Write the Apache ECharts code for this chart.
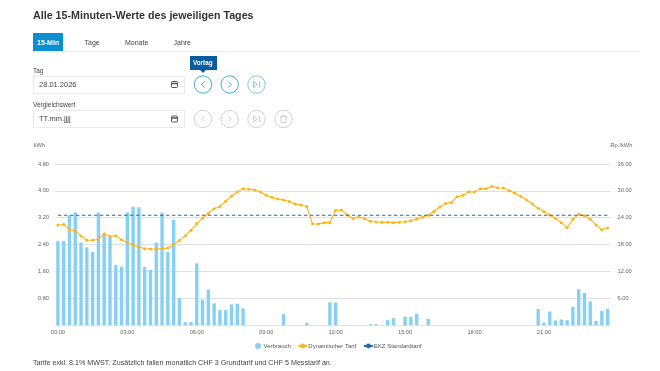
<!DOCTYPE html>
<html lang="de">
<head>
<meta charset="utf-8">
<title>Alle 15-Minuten-Werte</title>
<script src="https://cdn.jsdelivr.net/npm/echarts@6/dist/echarts.min.js"></script>
<style>
html,body{margin:0;padding:0;background:#fff;width:660px;height:371px;overflow:hidden;font-family:"Liberation Sans",Arial,sans-serif;color:#444}
#chart{position:absolute;left:0;top:0;width:660px;height:371px}
.t{position:absolute;white-space:nowrap;line-height:1}
.title{left:33px;top:9.5px;font-size:10.7px;font-weight:bold;color:#333}
.tab{position:absolute;left:33px;top:33px;width:30px;height:18px;background:#0b8fd0}
.sep{position:absolute;left:33px;top:51px;width:607px;height:1px;background:#eee}
.input{position:absolute;left:33px;width:150px;height:16px;border:1px solid #eaeaea;background:#fff}
.tip{position:absolute;left:190px;top:56px;width:27px;height:14px;background:#0a5c9e}
.tip:after{content:"";position:absolute;left:10px;top:14px;border:3px solid transparent;border-top-color:#0a5c9e}
svg.ic{position:absolute;left:0;top:0;width:660px;height:371px}
</style>
</head>
<body>
<div id="chart"></div>
<div class="t title">Alle 15-Minuten-Werte des jeweiligen Tages</div>
<div class="tab"></div>
<div class="sep"></div>
<div class="t" style="left:37px;top:39px;font-size:7px;font-weight:bold;color:#fff">15-Min</div>
<div class="t" style="left:84.5px;top:39px;font-size:7px">Tage</div>
<div class="t" style="left:125px;top:39px;font-size:7px">Monate</div>
<div class="t" style="left:173.5px;top:39px;font-size:7px">Jahre</div>
<div class="t" style="left:33px;top:68px;font-size:6.5px">Tag</div>
<div class="input" style="top:76px"></div>
<div class="t" style="left:39px;top:81px;font-size:7.5px">28.01.2026</div>
<div class="t" style="left:33px;top:102px;font-size:6.5px">Vergleichswert</div>
<div class="input" style="top:110px"></div>
<div class="t" style="left:39px;top:115px;font-size:7.5px">TT.mm.jjjj</div>
<div class="tip"></div>
<div class="t" style="left:193px;top:60px;font-size:6.3px;font-weight:bold;color:#fff">Vortag</div>
<svg class="ic" viewBox="0 0 660 371" fill="none">
  <g stroke="#555" stroke-width="1">
    <rect x="171.5" y="81.5" width="6" height="6" rx="1"/><path d="M171.5 83.5h6" stroke-width="1.5"/>
    <rect x="171.5" y="116" width="6" height="6" rx="1"/><path d="M171.5 118h6" stroke-width="1.5"/>
  </g>
  <g stroke="#2b9fd8" stroke-width="0.9">
    <circle cx="203" cy="84.5" r="8.7"/><path d="M204.5 81.5l-3 3 3 3"/>
    <circle cx="229.7" cy="84.5" r="8.7"/><path d="M228.2 81.5l3 3-3 3"/>
    <circle cx="256.5" cy="84.5" r="8.7" stroke="#6fbfe6"/><path d="M253.5 81.5l4 3-4 3zM259.5 81.5v6" stroke="#6fbfe6"/>
  </g>
  <g stroke="#ccc" stroke-width="0.9">
    <circle cx="203" cy="119" r="8.7"/><path d="M204.5 116l-3 3 3 3"/>
    <circle cx="229.7" cy="119" r="8.7"/><path d="M228.2 116l3 3-3 3"/>
    <circle cx="256.5" cy="119" r="8.7"/><path d="M253.5 116l4 3-4 3zM259.5 116v6"/>
    <circle cx="283.5" cy="119" r="8.7"/><path d="M281 116.5h5v6h-5zM280 116.5h7M282.5 115.5h2"/>
  </g>
</svg>
<div class="t" style="left:33px;top:360px;font-size:7.15px;color:#444">Tarife exkl. 8.1% MWST. Zusätzlich fallen monatlich CHF 3 Grundtarif und CHF 5 Messtarif an.</div>
<script>
const timeLabels = [];
for (let h = 0; h < 24; h++) for (const m of ['00','15','30','45']) timeLabels.push(String(h).padStart(2,'0') + ':' + m);

const verbrauch = [
  2.50,2.50,3.27,3.36,2.46,2.32,2.18,3.35,2.70,2.63,1.79,1.74,
  3.36,3.53,3.51,1.73,1.65,2.46,3.35,2.18,3.14,0.81,0.09,0.09,
  1.84,0.76,1.06,0.65,0.45,0.45,0.62,0.64,0.50,0,0,0,
  0,0,0,0.33,0,0,0,0.07,0,0,0,0.68,
  0.68,0,0,0,0,0,0.03,0.03,0,0.15,0.21,0,
  0.25,0.25,0.34,0,0.19,0,0,0,0,0,0,0,
  0,0,0,0,0,0,0,0,0,0,0,0.48,
  0.08,0.41,0.14,0.17,0.15,0.55,1.07,0.96,0.71,0.13,0.43,0.49
];
const dynamischerTarif = [
  22.38,22.5,21.3,21.05,19.9,18.97,18.97,19.2,20.45,19.8,20.0,19.1,
  18.45,17.85,17.48,17.1,17.03,16.96,17.1,17.25,18.0,18.9,20.0,21.2,
  22.7,23.9,25.0,26.0,26.5,27.7,28.85,29.75,30.5,30.35,30.2,29.75,
  29.0,28.55,28.2,27.96,27.6,27.07,26.85,26.5,22.6,22.6,22.9,22.9,
  25.66,25.7,24.6,23.8,24.2,23.8,23.2,23.05,23.0,23.0,22.9,23.0,
  23.1,23.35,23.7,24.1,24.55,25.4,26.4,27.2,27.4,28.7,29.0,29.8,
  29.75,30.5,30.5,31.0,30.7,30.65,30.05,29.45,28.8,27.96,27.07,26.1,
  25.35,24.6,23.8,22.9,21.8,23.65,24.8,24.45,23.7,22.4,21.3,21.7
];
const standardTarif = timeLabels.map(() => 24.55);

const chart = echarts.init(document.getElementById('chart'), null, {renderer:'canvas'});
const labelStyle = {color:'#666', fontSize:5.7, fontFamily:'Liberation Sans'};
chart.setOption({
  animation:false,
  backgroundColor:'transparent',
  textStyle:{fontFamily:'Liberation Sans'},
  grid:{left:55, right:49.5, top:164, height:161.2, containLabel:false},
  legend:{
    left:250, top:338, itemWidth:9, itemHeight:6, itemGap:6.5,
    textStyle:{color:'#555', fontSize:6, padding:[0,0,0,-4]},
    data:[
      {name:'Verbrauch', icon:'circle'},
      {name:'Dynamischer Tarif'},
      {name:'EKZ Standardtarif'}
    ]
  },
  xAxis:{
    type:'category', data:timeLabels, boundaryGap:true,
    axisTick:{show:false},
    axisLine:{lineStyle:{color:'#e3e3e3', width:1}},
    axisLabel:{...labelStyle, interval:11, margin:4}
  },
  yAxis:[
    {type:'value', min:0, max:4.8, interval:0.8,
     name:'kWh', nameLocation:'end', nameGap:16,
     nameTextStyle:{...labelStyle, align:'right', padding:[0,10,0,0]},
     axisLine:{show:false}, axisTick:{show:false},
     splitLine:{lineStyle:{color:'#e0e0e0', width:1}},
     axisLabel:{...labelStyle, margin:6, formatter:v => v === 0 ? '' : v.toFixed(2)}},
    {type:'value', min:0, max:36, interval:6,
     name:'Rp./kWh', nameLocation:'end', nameGap:16,
     nameTextStyle:{...labelStyle, align:'left', padding:[0,0,0,0]},
     axisLine:{show:false}, axisTick:{show:false},
     splitLine:{show:false},
     axisLabel:{...labelStyle, margin:7, formatter:v => v === 0 ? '' : v.toFixed(2)}}
  ],
  series:[
    {name:'Verbrauch', type:'bar', yAxisIndex:0, data:verbrauch, barWidth:3.4,
     itemStyle:{color:'#86d0f7'}},
    {name:'Dynamischer Tarif', type:'line', yAxisIndex:1, data:dynamischerTarif, z:3,
     symbol:'circle', symbolSize:3, showSymbol:true,
     lineStyle:{color:'#fdb515', width:1.1}, itemStyle:{color:'#fdb515'}},
    {name:'EKZ Standardtarif', type:'line', yAxisIndex:1, data:standardTarif, z:4,
     symbol:'none', lineStyle:{color:'#1a6fb5', width:1.2, type:[3.5,2.5]}, itemStyle:{color:'#1a6fb5'}}
  ]
});
</script>
</body>
</html>
